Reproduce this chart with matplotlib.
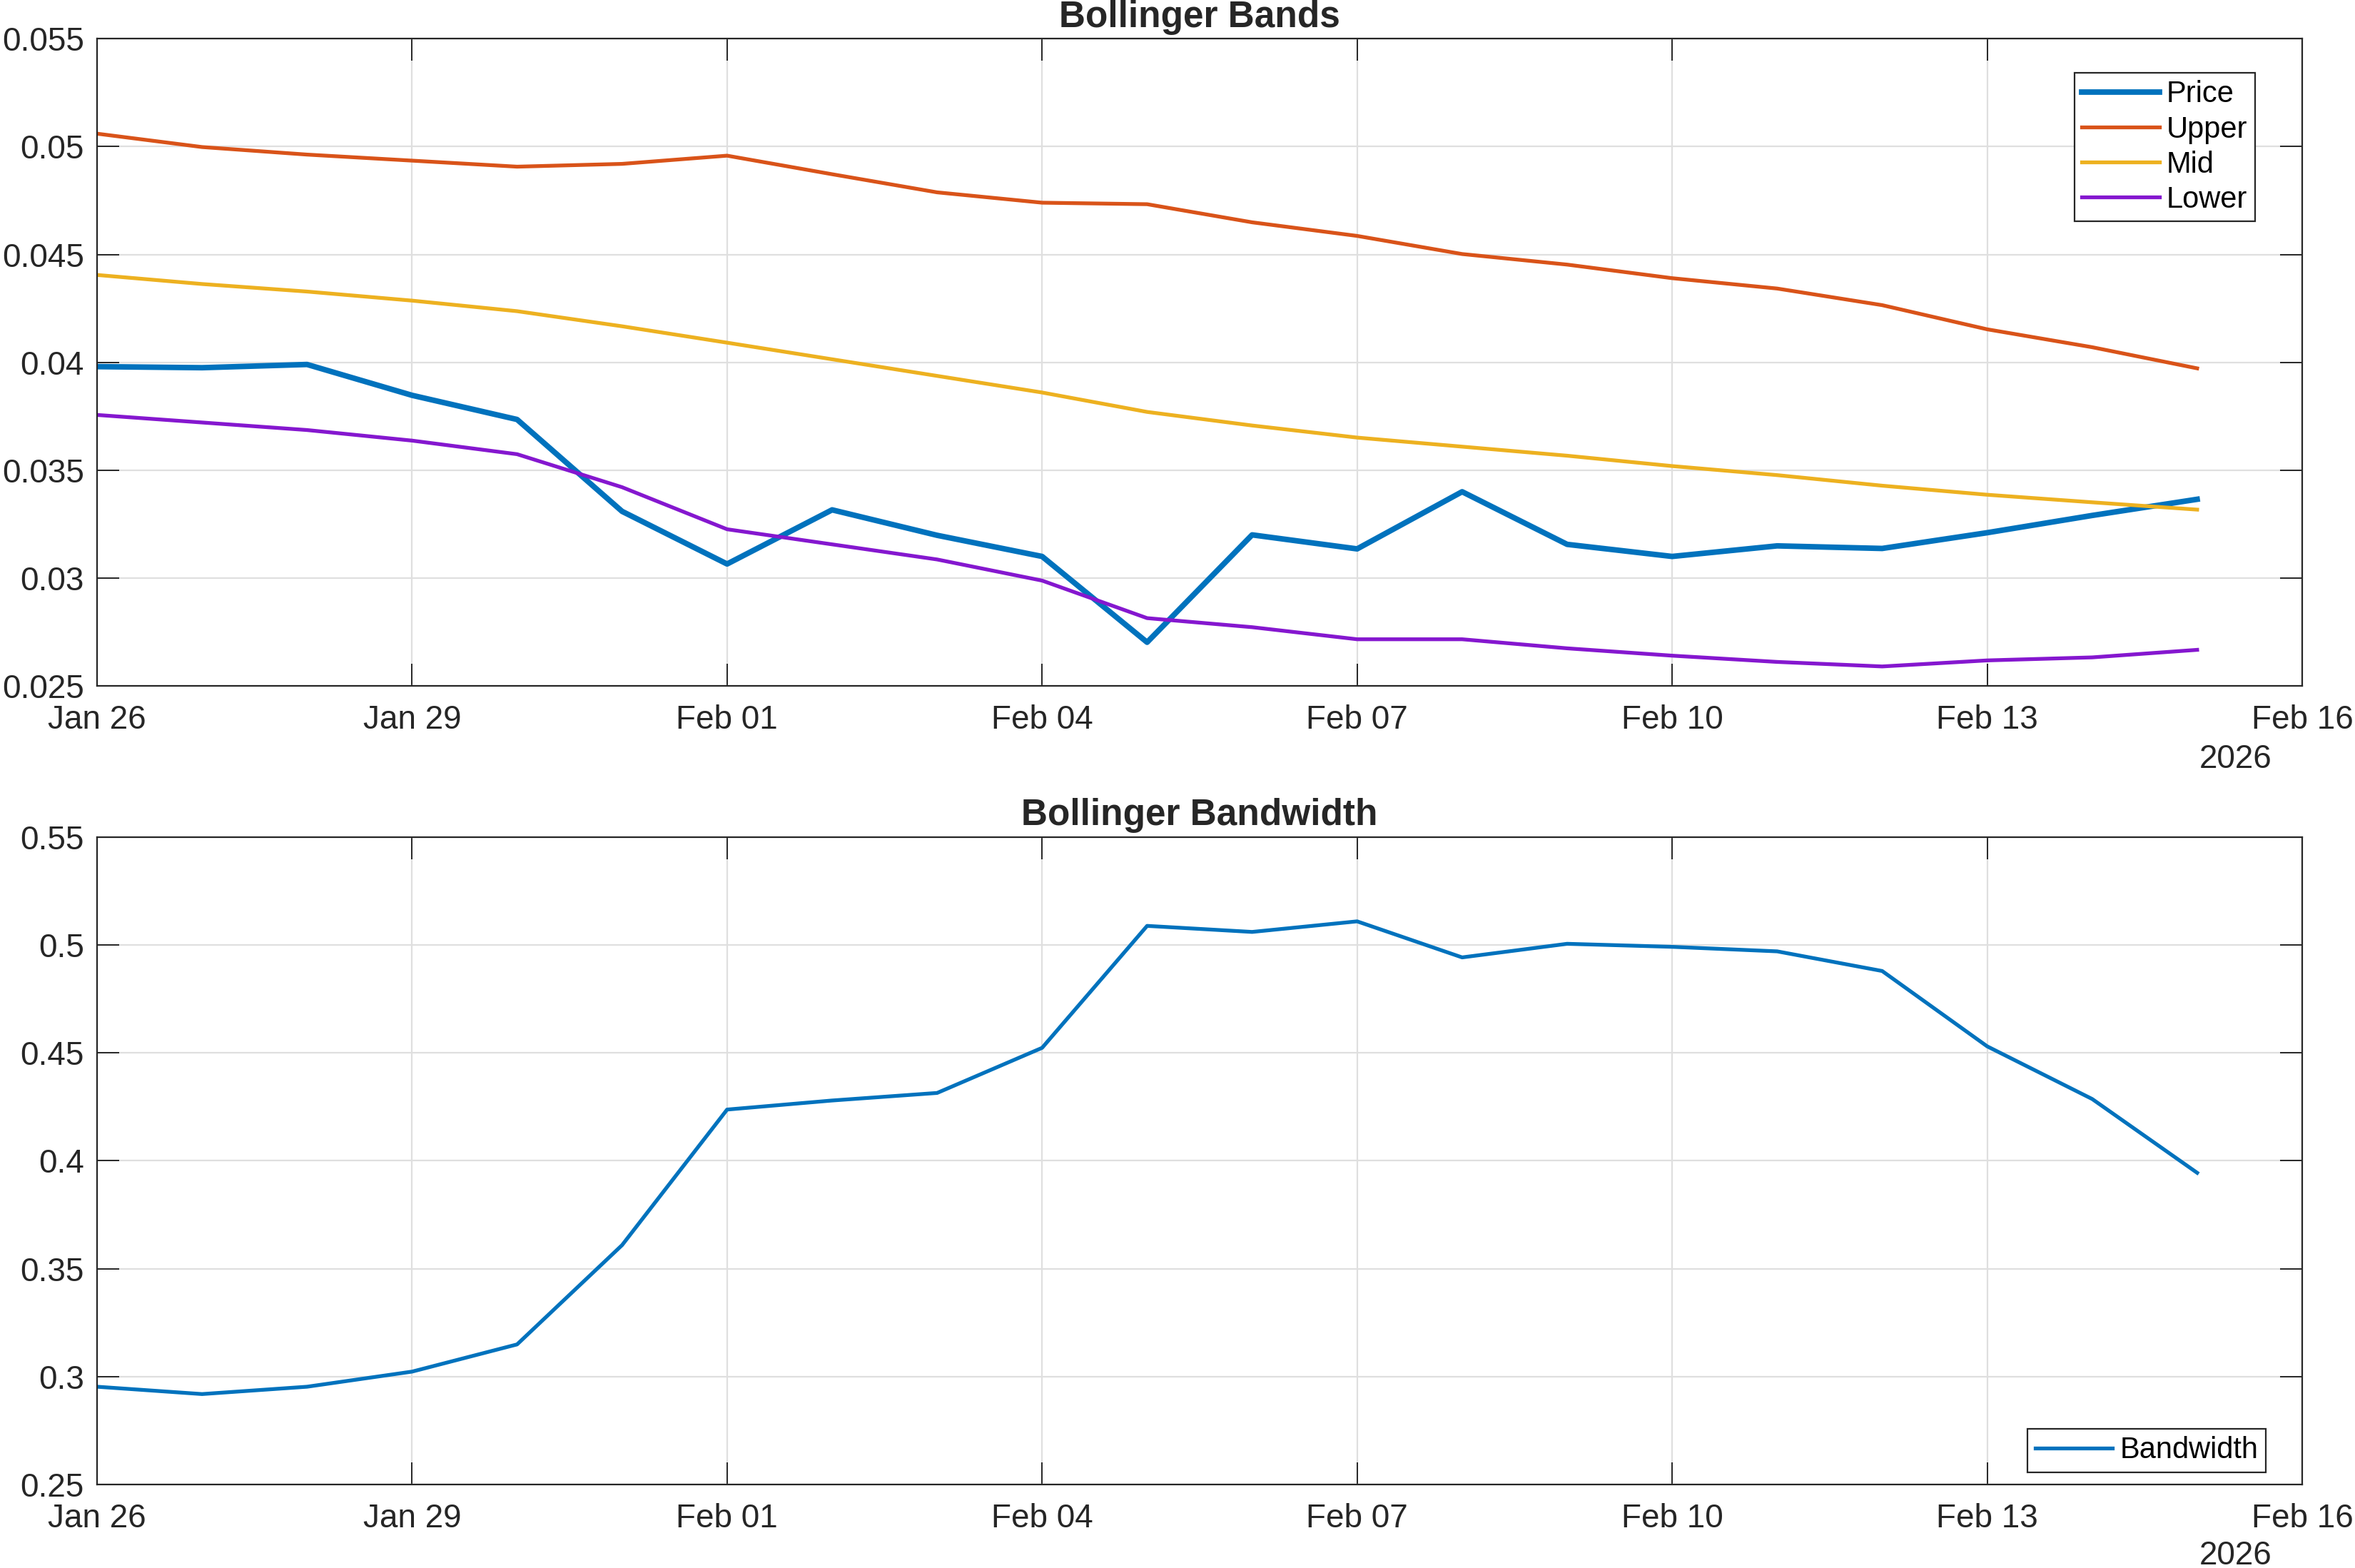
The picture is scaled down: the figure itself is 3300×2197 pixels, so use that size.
import numpy as np
import pandas as pd
import matplotlib
matplotlib.use('Agg')
import matplotlib.pyplot as plt
import matplotlib.dates as mdates
from matplotlib.ticker import FormatStrFormatter

plt.rcParams['font.family'] = ['Liberation Sans', 'DejaVu Sans']

# Daten
dates = pd.date_range('2026-01-26', '2026-02-15', freq='D')
price = [0.0398, 0.03975, 0.0399, 0.03847, 0.03735, 0.03309, 0.03065, 0.03316,
         0.03198, 0.0310, 0.02702, 0.0320, 0.03135, 0.0340, 0.03156, 0.0310,
         0.03149, 0.03137, 0.0321, 0.0329, 0.03365]
upper = [0.0506, 0.04998, 0.04963, 0.04935, 0.04907, 0.0492, 0.04958, 0.04872,
         0.04788, 0.0474, 0.04733, 0.04649, 0.04586, 0.04502, 0.04453, 0.0439,
         0.04342, 0.04265, 0.04153, 0.0407, 0.03972]
mid = [0.04405, 0.04363, 0.04328, 0.04286, 0.04237, 0.04167, 0.04091, 0.04014,
       0.03937, 0.0386, 0.0377, 0.03707, 0.03651, 0.03609, 0.03567, 0.03519,
       0.03477, 0.03428, 0.03386, 0.03351, 0.03317]
lower = [0.03756, 0.03721, 0.03686, 0.03637, 0.03574, 0.03421, 0.03226, 0.03156,
         0.03086, 0.02988, 0.02814, 0.02772, 0.02716, 0.02716, 0.02674, 0.0264,
         0.02611, 0.0259, 0.02618, 0.02632, 0.02667]
bandwidth = [0.2953, 0.2919, 0.2953, 0.3023, 0.3149, 0.3609, 0.4237, 0.4279,
             0.4314, 0.4523, 0.5088, 0.5060, 0.5109, 0.4942, 0.5005, 0.4991,
             0.4970, 0.4879, 0.4530, 0.4286, 0.3944]

xticks = pd.date_range('2026-01-26', '2026-02-16', freq='3D')
dunkel = '#262626'

fig = plt.figure(figsize=(16.5, 10.985), dpi=200)
ax1 = fig.add_axes([0.04121, 0.56259, 0.93636, 0.41269])
ax2 = fig.add_axes([0.04121, 0.05325, 0.93636, 0.41298])

ax1.plot(dates, price, color='#0072BD', lw=2.8, label='Price')
ax1.plot(dates, upper, color='#D95319', lw=1.9, label='Upper')
ax1.plot(dates, mid, color='#EDB120', lw=1.9, label='Mid')
ax1.plot(dates, lower, color='#8517CF', lw=1.9, label='Lower')
ax1.set_ylim(0.025, 0.055)
ax1.set_yticks(np.arange(0.025, 0.0551, 0.005))
ax1.set_title('Bollinger Bands', fontsize=18.5, fontweight='bold', color=dunkel, pad=6)

ax2.plot(dates, bandwidth, color='#0072BD', lw=1.9, label='Bandwidth')
ax2.set_ylim(0.25, 0.55)
ax2.set_yticks(np.arange(0.25, 0.551, 0.05))
ax2.set_title('Bollinger Bandwidth', fontsize=18.5, fontweight='bold', color=dunkel, pad=6)

for ax in (ax1, ax2):
    ax.set_xlim(xticks[0], xticks[-1])
    ax.set_xticks(xticks)
    ax.xaxis.set_major_formatter(mdates.DateFormatter('%b %d'))
    ax.yaxis.set_major_formatter(FormatStrFormatter('%g'))
    ax.grid(True, color='#DFDFDF', lw=0.8)
    ax.set_axisbelow(True)
    ax.tick_params(direction='in', length=11, width=0.7, colors=dunkel,
                   labelsize=16.5, top=True, right=True)
    ax.tick_params(axis='x', pad=9.5)
    ax.tick_params(axis='y', pad=6.5)
    for s in ax.spines.values():
        s.set_color(dunkel)
        s.set_linewidth(0.8)

leg1 = ax1.legend(loc='upper right', bbox_to_anchor=(0.9786, 0.9474), borderaxespad=0,
                  fontsize=15, fancybox=False, edgecolor=dunkel, framealpha=1,
                  handlelength=2.6, handletextpad=0.25, labelspacing=0.22, borderpad=0.25)
leg1.get_frame().set_linewidth(0.8)
leg2 = ax2.legend(loc='lower right', bbox_to_anchor=(0.9835, 0.019), borderaxespad=0,
                  fontsize=15, fancybox=False, edgecolor=dunkel, framealpha=1,
                  handlelength=2.6, handletextpad=0.25, borderpad=0.25)
leg2.get_frame().set_linewidth(0.8)

# Jahr unter der Achse
fig.text(0.9494, 0.5102, '2026', ha='center', va='baseline', fontsize=16.5, color=dunkel)
fig.text(0.9494, 0.0025, '2026', ha='center', va='baseline', fontsize=16.5, color=dunkel)

fig.savefig('out.png', dpi=200)
